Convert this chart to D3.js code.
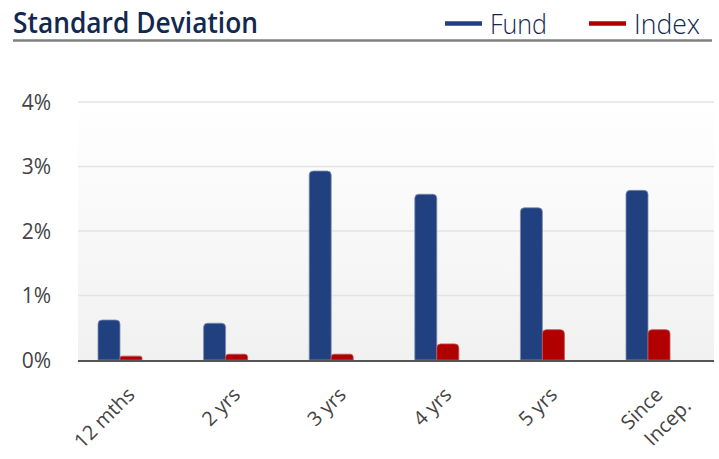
<!DOCTYPE html>
<html>
<head>
<meta charset="utf-8">
<script src="https://cdn.jsdelivr.net/npm/d3@7/dist/d3.min.js"></script>
<style>
  body { margin: 0; background: #fff; }
  svg text { font-family: "Open Sans", sans-serif; }
</style>
</head>
<body>
<div id="chart"></div>
<script>
var categories = ['12 mths', '2 yrs', '3 yrs', '4 yrs', '5 yrs', 'Since Incep.'];
var fundValues = [0.62, 0.57, 2.93, 2.57, 2.36, 2.63];
var indexValues = [0.06, 0.09, 0.09, 0.25, 0.47, 0.47];
var yTicks = [0, 1, 2, 3, 4];
var seriesNames = ['Fund', 'Index'];
var seriesColors = ['#21407f', '#b00000'];

var width = 719, height = 459,
	plotLeft = 78, plotRight = 714,
	barW = 22;

var svg = d3.select('#chart')
	.append('svg')
	.attr('width', width)
	.attr('height', height);

var y = d3.scaleLinear().domain([0, 4]).range([360, 102]);
var x = d3.scalePoint().domain(categories).range([120, 648]);

// plot background gradient
var grad = svg.append('defs').append('linearGradient')
	.attr('id', 'bg').attr('x1', 0).attr('y1', 0).attr('x2', 0).attr('y2', 1);
grad.append('stop').attr('offset', '0%').attr('stop-color', '#ffffff');
grad.append('stop').attr('offset', '100%').attr('stop-color', '#f1f1f1');

svg.append('rect')
	.attr('x', plotLeft).attr('y', y(4))
	.attr('width', plotRight - plotLeft).attr('height', y(0) - y(4))
	.attr('fill', 'url(#bg)');

// title
svg.append('text')
	.attr('x', 13).attr('y', 33)
	.attr('textLength', 245).attr('lengthAdjust', 'spacingAndGlyphs')
	.style('font-size', '29px').style('font-weight', 600)
	.attr('fill', '#12284f')
	.text('Standard Deviation');

svg.append('line')
	.attr('x1', 13).attr('x2', 712).attr('y1', 40.5).attr('y2', 40.5)
	.attr('stroke', '#808080').attr('stroke-width', 2.5);

// legend
var legendX = [445, 589], legendTextW = [57, 66];
seriesNames.forEach(function (name, i) {
	svg.append('line')
		.attr('x1', legendX[i]).attr('x2', legendX[i] + 37)
		.attr('y1', 23.5).attr('y2', 23.5)
		.attr('stroke', seriesColors[i]).attr('stroke-width', 4.5);
	svg.append('text')
		.attr('x', legendX[i] + 45).attr('y', 34)
		.attr('textLength', legendTextW[i]).attr('lengthAdjust', 'spacingAndGlyphs')
		.style('font-size', '27px').style('font-weight', 300)
		.attr('fill', '#12284f')
		.text(name);
});

// gridlines + y labels
svg.selectAll('.grid')
	.data(yTicks.slice(1))
	.enter()
	.append('line')
	.attr('x1', plotLeft).attr('x2', plotRight)
	.attr('y1', function (d) { return y(d); })
	.attr('y2', function (d) { return y(d); })
	.attr('stroke', '#e4e4e4').attr('stroke-width', 1.5);

svg.selectAll('.ylab')
	.data(yTicks)
	.enter()
	.append('text')
	.attr('x', 51)
	.attr('y', function (d) { return y(d); })
	.attr('dy', '0.36em')
	.attr('text-anchor', 'end')
	.style('font-size', '21px')
	.attr('fill', '#444')
	.text(function (d) { return d + '%'; });

function barPath(x0, w, yTop, yBase) {
	var h = yBase - yTop, r = Math.min(4, h / 2, w / 2);
	return 'M' + x0 + ',' + yBase +
		'V' + (yTop + r) +
		'Q' + x0 + ',' + yTop + ' ' + (x0 + r) + ',' + yTop +
		'H' + (x0 + w - r) +
		'Q' + (x0 + w) + ',' + yTop + ' ' + (x0 + w) + ',' + (yTop + r) +
		'V' + yBase + 'Z';
}

// bars
[fundValues, indexValues].forEach(function (vals, s) {
	svg.selectAll('.bar' + s)
		.data(vals)
		.enter()
		.append('path')
		.attr('d', function (d, i) {
			var x0 = x(categories[i]) - barW + s * barW;
			return barPath(x0, barW, y(d), y(0));
		})
		.attr('fill', seriesColors[s])
		.attr('stroke', s === 0 ? '#7d8db3' : '#c85050')
		.attr('stroke-width', 0.8);
});

// x axis line
svg.append('line')
	.attr('x1', plotLeft).attr('x2', plotRight)
	.attr('y1', 361).attr('y2', 361)
	.attr('stroke', '#555').attr('stroke-width', 2);

// x labels
var xl = svg.selectAll('.xlab')
	.data(categories)
	.enter()
	.append('text')
	.attr('transform', function (d) {
		return 'translate(' + (x(d) + 16) + ',396) rotate(-45)';
	})
	.attr('text-anchor', 'end')
	.style('font-size', '20px')
	.attr('fill', '#444');

xl.each(function (d) {
	var parts = d === 'Since Incep.' ? ['Since', 'Incep.'] : [d];
	var t = d3.select(this);
	parts.forEach(function (p, k) {
		t.append('tspan')
			.attr('x', k * 12)
			.attr('dy', k === 0 ? 0 : '1.4em')
			.text(p);
	});
});
</script>
</body>
</html>
